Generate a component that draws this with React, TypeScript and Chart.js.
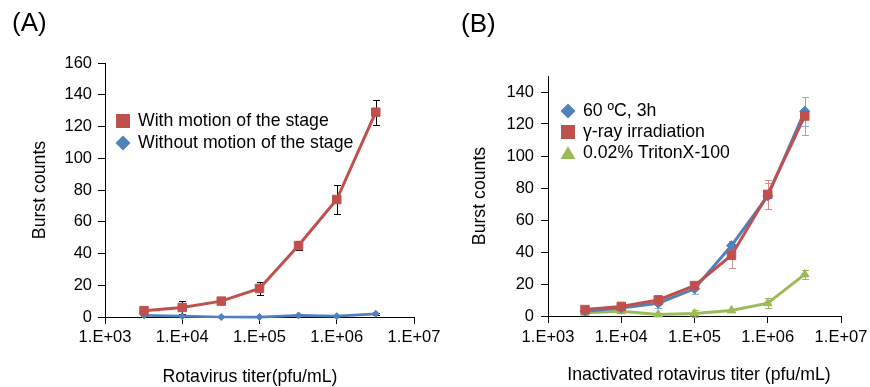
import React, { useEffect, useRef } from 'react';
import { Chart, registerables } from 'chart.js';

Chart.register(...registerables);

const FONT = "'Liberation Sans', Arial, Helvetica, sans-serif";

// ---------- data ----------
const titers = [3200, 10000, 32000, 100000, 320000, 1000000, 3200000];
const xTickValues = [1e3, 1e4, 1e5, 1e6, 1e7];
const xTickLabels = ['1.E+03', '1.E+04', '1.E+05', '1.E+06', '1.E+07'];

const yTicksA = [0, 20, 40, 60, 80, 100, 120, 140, 160];
const yTicksB = [0, 20, 40, 60, 80, 100, 120, 140];

// Panel A
const withMotion = [4, 6, 10, 18, 45, 74, 129];
const withMotionErr = [1, 4, 1, 4, 3, 9, 8];
const withoutMotion = [1, 0.5, 0, 0, 1, 0.5, 2];
const withoutMotionErr = [0.5, 0.5, 0.3, 0.3, 1, 0.5, 0.5];

// Panel B
const heat = [3, 5, 8, 17, 44, 75, 128];
const heatErr = [1, 2, 3, 3, 3, 8, 9];
const gamma = [4, 6, 10, 19, 38, 76, 125];
const gammaErr = [1, 1, 3, 2, 8, 9, 12];
const triton = [2, 3, 1, 1.5, 3.5, 8, 26];
const tritonErr = [1, 1, 0.5, 2, 1, 3, 3];

const RED = '#C0504D';
const BLUE = '#4F81BD';
const GREEN = '#9BBB59';

const TEXT_SIZE = 17.7;
const TICK_SIZE = 16.5;

const pts = (vals: number[]) => titers.map((x, i) => ({ x, y: vals[i] }));

type Spec = {
  width: number;
  left: number;
  padding: { left: number; right: number; top: number; bottom: number };
  yWidth: number;
  xHeight: number;
  yMax: number;
  yTicks: number[];
  yTitlePad: number;
  yTickPad: number;
  xTickPad: number;
  xTitle: string;
  xTitleX: number;
  xTitleY: number;
  label: string;
  labelX: number;
  labelY: number;
  legendX: number;
  legendTextX: number;
  legendY: number[];
  datasets: any[];
};

function drawMarker(ctx: CanvasRenderingContext2D, style: string, cx: number, cy: number, color: string) {
  ctx.fillStyle = color;
  ctx.beginPath();
  if (style === 'rect') {
    ctx.rect(cx - 7, cy - 7, 14, 14);
  } else if (style === 'rectRot') {
    ctx.moveTo(cx, cy - 7.5);
    ctx.lineTo(cx + 7.5, cy);
    ctx.lineTo(cx, cy + 7.5);
    ctx.lineTo(cx - 7.5, cy);
    ctx.closePath();
  } else {
    ctx.moveTo(cx, cy - 7);
    ctx.lineTo(cx + 7.5, cy + 6);
    ctx.lineTo(cx - 7.5, cy + 6);
    ctx.closePath();
  }
  ctx.fill();
}

function makePlugin(spec: Spec) {
  return {
    id: 'decor',
    beforeDatasetsDraw(chart: any) {
      const ctx = chart.ctx as CanvasRenderingContext2D;
      const xs = chart.scales.x;
      const ys = chart.scales.y;
      chart.data.datasets.forEach((ds: any) => {
        const errs: number[] = ds.errors;
        if (!errs) return;
        ctx.save();
        ctx.strokeStyle = ds.errColor;
        ctx.lineWidth = 1;
        ds.data.forEach((p: any, j: number) => {
          const x = Math.round(xs.getPixelForValue(p.x)) + 0.5;
          const yt = Math.round(ys.getPixelForValue(p.y + errs[j])) + 0.5;
          const yb = Math.round(ys.getPixelForValue(p.y - errs[j])) + 0.5;
          ctx.beginPath();
          ctx.moveTo(x, yt);
          ctx.lineTo(x, yb);
          ctx.moveTo(x - 3.5, yt);
          ctx.lineTo(x + 3.5, yt);
          ctx.moveTo(x - 3.5, yb);
          ctx.lineTo(x + 3.5, yb);
          ctx.stroke();
        });
        ctx.restore();
      });
    },
    afterDraw(chart: any) {
      const ctx = chart.ctx as CanvasRenderingContext2D;
      ctx.save();
      // legend
      ctx.font = `${TEXT_SIZE}px ${FONT}`;
      ctx.textBaseline = 'middle';
      ctx.textAlign = 'left';
      chart.data.datasets.forEach((ds: any, i: number) => {
        const cy = spec.legendY[i];
        drawMarker(ctx, ds.pointStyle, spec.legendX, cy, ds.borderColor);
        ctx.fillStyle = '#000';
        ctx.fillText(ds.label, spec.legendTextX, cy);
      });
      // x axis title
      ctx.textAlign = 'center';
      ctx.fillStyle = '#000';
      ctx.font = `${TEXT_SIZE}px ${FONT}`;
      ctx.fillText(spec.xTitle, spec.xTitleX, spec.xTitleY);
      // panel label
      ctx.textAlign = 'left';
      ctx.textBaseline = 'alphabetic';
      ctx.font = `26px ${FONT}`;
      ctx.fillText(spec.label, spec.labelX, spec.labelY);
      ctx.restore();
    },
  };
}

function Panel({ spec }: { spec: Spec }) {
  const ref = useRef<HTMLCanvasElement | null>(null);
  useEffect(() => {
    if (!ref.current) return;
    const chart = new Chart(ref.current, {
      type: 'line',
      data: { datasets: spec.datasets },
      options: {
        responsive: false,
        maintainAspectRatio: false,
        animation: false,
        layout: { padding: spec.padding },
        plugins: { legend: { display: false }, tooltip: { enabled: false }, title: { display: false } },
        scales: {
          x: {
            type: 'logarithmic',
            position: 'bottom',
            min: 1e3,
            max: 1e7,
            afterBuildTicks: (s: any) => {
              s.ticks = xTickValues.map((v) => ({ value: v }));
            },
            afterFit: (s: any) => {
              s.height = spec.xHeight;
              s.paddingLeft = 0;
              s.paddingRight = 0;
            },
            ticks: {
              autoSkip: false,
              maxRotation: 0,
              minRotation: 0,
              padding: spec.xTickPad,
              color: '#000',
              font: { size: TICK_SIZE, family: FONT },
              callback: (_v: any, i: number) => xTickLabels[i],
            },
            grid: { drawOnChartArea: false, drawTicks: true, tickLength: 7, color: '#000', lineWidth: 1 },
            border: { display: true, color: '#000', width: 1 },
          },
          y: {
            type: 'linear',
            min: 0,
            max: spec.yMax,
            afterBuildTicks: (s: any) => {
              s.ticks = spec.yTicks.map((v) => ({ value: v }));
            },
            afterFit: (s: any) => {
              s.width = spec.yWidth;
              s.paddingTop = 0;
              s.paddingBottom = 0;
            },
            ticks: {
              padding: spec.yTickPad,
              color: '#000',
              font: { size: TICK_SIZE, family: FONT },
            },
            grid: { drawOnChartArea: false, drawTicks: true, tickLength: 7, color: '#000', lineWidth: 1 },
            border: { display: true, color: '#000', width: 1 },
            title: {
              display: true,
              text: 'Burst counts',
              color: '#000',
              font: { size: TEXT_SIZE, family: FONT },
              padding: { top: spec.yTitlePad, bottom: 0 },
            },
          },
        },
      },
      plugins: [makePlugin(spec)],
    } as any);
    return () => chart.destroy();
  }, [spec]);
  return (
    <canvas
      ref={ref}
      width={spec.width}
      height={387}
      style={{ position: 'absolute', left: spec.left, top: 0, width: spec.width, height: 387 }}
    />
  );
}

const specA: Spec = {
  width: 470,
  left: 0,
  padding: { left: 0, right: 56, top: 63, bottom: 0 },
  yWidth: 105,
  xHeight: 70,
  yMax: 160,
  yTicks: yTicksA,
  yTitlePad: 29.4,
  yTickPad: 6,
  xTickPad: 4,
  xTitle: 'Rotavirus titer(pfu/mL)',
  xTitleX: 250,
  xTitleY: 377,
  label: '(A)',
  labelX: 12,
  labelY: 31,
  legendX: 123,
  legendTextX: 138,
  legendY: [121, 143],
  datasets: [
    {
      label: 'With motion of the stage',
      data: pts(withMotion),
      errors: withMotionErr,
      errColor: '#000',
      borderColor: RED,
      backgroundColor: RED,
      pointBackgroundColor: RED,
      pointBorderColor: RED,
      pointStyle: 'rect',
      pointRadius: 6,
      pointBorderWidth: 1,
      borderWidth: 3,
      tension: 0,
      clip: false,
      order: 0,
    },
    {
      label: 'Without motion of the stage',
      data: pts(withoutMotion),
      errors: withoutMotionErr,
      errColor: '#000',
      borderColor: BLUE,
      backgroundColor: BLUE,
      pointBackgroundColor: BLUE,
      pointBorderColor: BLUE,
      pointStyle: 'rectRot',
      pointRadius: 3.5,
      pointBorderWidth: 1,
      borderWidth: 2.75,
      tension: 0,
      clip: false,
      order: 1,
    },
  ],
};

const specB: Spec = {
  width: 435,
  left: 435,
  padding: { left: 0, right: 29, top: 76, bottom: 0 },
  yWidth: 113,
  xHeight: 71,
  yMax: 150,
  yTicks: yTicksB,
  yTitlePad: 34.9,
  yTickPad: 7,
  xTickPad: 4.5,
  xTitle: 'Inactivated rotavirus titer (pfu/mL)',
  xTitleX: 264,
  xTitleY: 375,
  label: '(B)',
  labelX: 26,
  labelY: 32,
  legendX: 133,
  legendTextX: 148,
  legendY: [111, 132, 153],
  datasets: [
    {
      label: '60 ºC, 3h',
      data: pts(heat),
      errors: heatErr,
      errColor: '#8EACD6',
      borderColor: BLUE,
      backgroundColor: BLUE,
      pointBackgroundColor: BLUE,
      pointBorderColor: BLUE,
      pointStyle: 'rectRot',
      pointRadius: 5,
      pointBorderWidth: 1,
      borderWidth: 3,
      tension: 0,
      clip: false,
      order: 1,
    },
    {
      label: 'γ-ray irradiation',
      data: pts(gamma),
      errors: gammaErr,
      errColor: '#D98E8C',
      borderColor: RED,
      backgroundColor: RED,
      pointBackgroundColor: RED,
      pointBorderColor: RED,
      pointStyle: 'rect',
      pointRadius: 6,
      pointBorderWidth: 1,
      borderWidth: 3,
      tension: 0,
      clip: false,
      order: 0,
    },
    {
      label: '0.02% TritonX-100',
      data: pts(triton),
      errors: tritonErr,
      errColor: GREEN,
      borderColor: GREEN,
      backgroundColor: GREEN,
      pointBackgroundColor: GREEN,
      pointBorderColor: GREEN,
      pointStyle: 'triangle',
      pointRadius: 5,
      pointBorderWidth: 1,
      borderWidth: 3,
      tension: 0,
      clip: false,
      order: 2,
    },
  ],
};

export default function App() {
  return (
    <div
      style={{
        position: 'absolute',
        left: 0,
        top: 0,
        width: 870,
        height: 387,
        background: '#fff',
        overflow: 'hidden',
      }}
    >
      <Panel spec={specA} />
      <Panel spec={specB} />
    </div>
  );
}
